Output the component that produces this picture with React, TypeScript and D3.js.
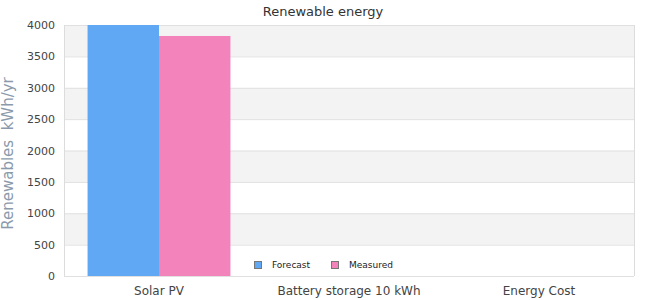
import React from "react";
import * as d3 from "d3";

const categories = ["Solar PV", "Battery storage 10 kWh", "Energy Cost"];
const seriesNames = ["Forecast", "Measured"];
const forecast = [4000, 0, 0];
const measured = [3825, 0, 0];
const yTicks = [0, 500, 1000, 1500, 2000, 2500, 3000, 3500, 4000];
const colors = ["#60a8f4", "#f283bb"];

const W = 650, H = 300;
const M = { left: 64, right: 16, top: 25, bottom: 24 };

export default function App() {
  const x = d3.scaleBand().domain(categories).range([M.left, W - M.right]);
  const y = d3.scaleLinear().domain([0, 4000]).range([H - M.bottom, M.top]);
  const inner = d3.scaleBand().domain(seriesNames).range([0, x.bandwidth()]).paddingOuter(0.33);
  const series = [forecast, measured];
  const font = "'DejaVu Sans', Verdana, sans-serif";
  return (
    <svg width={W} height={H} style={{ position: "absolute", left: 0, top: 0 }} fontFamily={font}>
      <rect x={0} y={0} width={W} height={H} fill="#fff" />
      {yTicks.slice(0, -1).map((t, i) => (
        <rect key={t} x={M.left} width={W - M.right - M.left} y={y(yTicks[i + 1])} height={y(t) - y(yTicks[i + 1])}
          fill={i % 2 === 1 ? "#f3f3f3" : "#fff"} />
      ))}
      {yTicks.map((t) => (
        <line key={t} x1={M.left} x2={W - M.right} y1={y(t) + 0.5} y2={y(t) + 0.5} stroke="#e0e0e0" />
      ))}
      <line x1={M.left + 0.5} x2={M.left + 0.5} y1={M.top} y2={H - M.bottom} stroke="#dcdcdc" />
      <line x1={W - M.right + 0.5} x2={W - M.right + 0.5} y1={M.top} y2={H - M.bottom} stroke="#dcdcdc" />
      {series.map((vals, si) =>
        categories.map((c, ci) => (
          <rect key={si + c} x={(x(c) as number) + (inner(seriesNames[si]) as number)} width={inner.bandwidth()}
            y={y(vals[ci])} height={y(0) - y(vals[ci])} fill={colors[si]} />
        ))
      )}
      {yTicks.map((t) => (
        <text key={t} x={M.left - 9} y={y(t) + 4} textAnchor="end" fontSize={11} fill="#444">{t}</text>
      ))}
      {categories.map((c) => (
        <text key={c} x={(x(c) as number) + x.bandwidth() / 2} y={295} textAnchor="middle" fontSize={12} fill="#444">{c}</text>
      ))}
      <text x={323} y={16} textAnchor="middle" fontSize={13} fill="#333">Renewable energy</text>
      <text transform={`translate(13,${(M.top + H - M.bottom) / 2 + 3}) rotate(-90)`} textAnchor="middle" fontSize={15} fill="#8a9aab" style={{ whiteSpace: "pre" }}>{"Renewables  kWh/yr"}</text>
      {seriesNames.map((s, i) => {
        const lx = [254, 331][i];
        return (
          <g key={s}>
            <rect x={lx + 0.5} y={261.5} width={7} height={7} fill={colors[i]} stroke="#777" />
            <text x={lx + 18} y={268} fontSize={9} fill="#222">{s}</text>
          </g>
        );
      })}
    </svg>
  );
}
